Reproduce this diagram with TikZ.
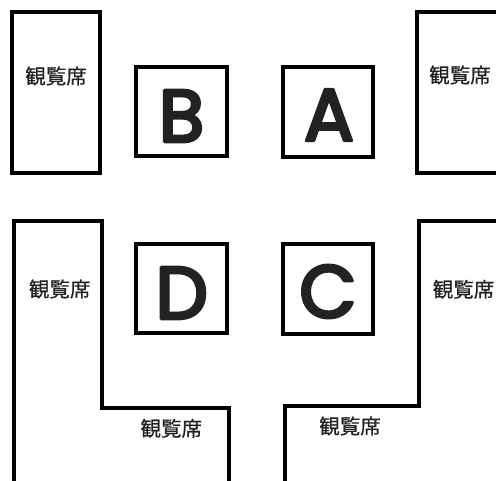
\documentclass[tikz,border=0pt]{standalone}
\usepackage{fontspec}
\setmainfont{Poppins}
\newfontfamily\jpfont[FakeBold=0.6]{Noto Sans CJK JP}
\definecolor{ink}{HTML}{222222}
\newcommand{\roundletter}[1]{\special{pdf:code q 2 Tr 1 J 1 j 3.2 w 0.133 0.133 0.133 RG}#1\special{pdf:code Q}}
\tikzset{
  wall/.style={draw=black,line width=4pt,line join=miter},
  court/.style={draw=black,line width=4pt,fill=white,inner sep=0pt,outer sep=0pt},
  letter/.style={inner sep=0pt,text=ink,font=\fontsize{74}{74}\selectfont},
  seat/.style={inner sep=0pt,text=ink,font=\jpfont\fontsize{20.5}{20.5}\selectfont}
}
\begin{document}
\begin{tikzpicture}[x=1pt,y=-1pt]
\useasboundingbox (0,0) rectangle (496,481);
\clip (0,0) rectangle (496,481);
% courts
\node[court,minimum width=90.4pt,minimum height=89.3pt] (boxB) at (181.5,111.3) {};
\node[court,minimum width=90pt,minimum height=89.7pt] (boxA) at (328.3,111.8) {};
\node[court,minimum width=90.4pt,minimum height=89.3pt] (boxD) at (181.5,288.3) {};
\node[court,minimum width=90pt,minimum height=89.4pt] (boxC) at (328.3,289) {};
\node[letter] (letB) at (181.5,116) {\roundletter{B}};
\node[letter] (letA) at (329,115) {\roundletter{A}};
\node[letter] (letD) at (181.7,293) {\roundletter{D}};
\node[letter] (letC) at (328,291.5) {\roundletter{C}};
% seating
\draw[wall] (12.3,12.3) rectangle (100.3,173);
\draw[wall] (510,12.3) -- (416.7,12.3) -- (416.7,173) -- (510,173);
\draw[wall] (14,490) -- (14,221.3) -- (101.7,221.3) -- (101.7,407.7) -- (228.7,407.7) -- (228.7,490);
\draw[wall] (285,490) -- (285,406) -- (418.5,406) -- (418.5,221.5) -- (510,221.5);
\node[seat] (s1) at (56,76) {観覧席};
\node[seat] (s2) at (460,75) {観覧席};
\node[seat] (s3) at (59.7,289) {観覧席};
\node[seat] (s4) at (463.5,289.3) {観覧席};
\node[seat] (s5) at (171.3,428.3) {観覧席};
\node[seat] (s6) at (350,426) {観覧席};
\end{tikzpicture}
\end{document}
